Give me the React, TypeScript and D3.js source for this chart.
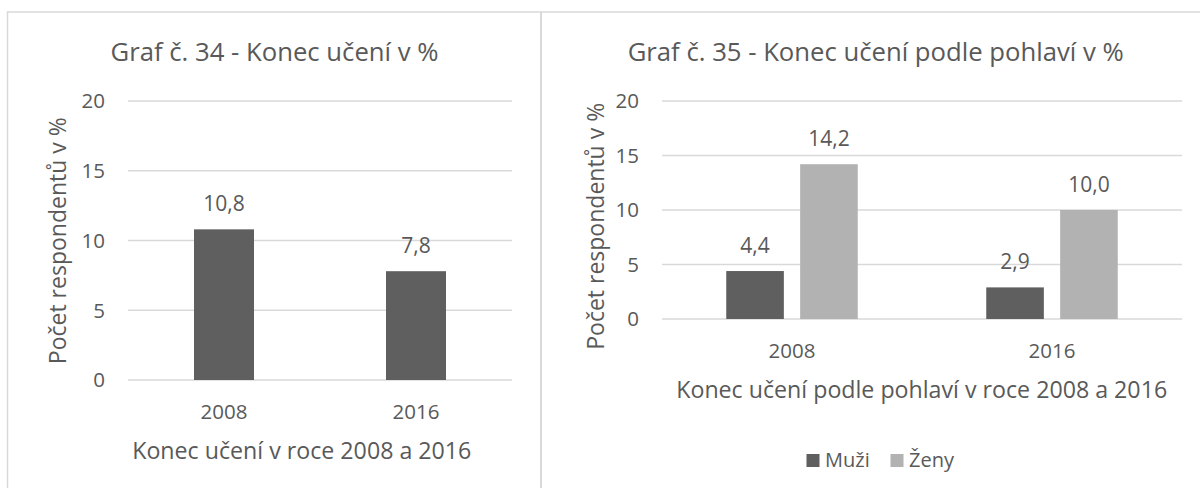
import React from 'react';
import * as d3 from 'd3';

const years = ['2008', '2016'];
const totalValues = [10.8, 7.8];
const genders = ['Muži', 'Ženy'];
const menValues = [4.4, 2.9];
const womenValues = [14.2, 10.0];
const yTicks = [0, 5, 10, 15, 20];

const titleLeft = 'Graf č. 34 - Konec učení v %';
const titleRight = 'Graf č. 35 - Konec učení podle pohlaví v %';
const yTitle = 'Počet respondentů v %';
const xTitleLeft = 'Konec učení v roce 2008 a 2016';
const xTitleRight = 'Konec učení podle pohlaví v roce 2008 a 2016';

const FONT = "'Open Sans', 'Noto Sans', sans-serif";
const TEXT = '#595959';
const GRID = '#d9d9d9';
const DARK = '#5f5f5f';
const LIGHT = '#b2b2b2';

const locale = d3.formatLocale({ decimal: ',', thousands: ' ', grouping: [3], currency: ['', ''] });
const fmt = locale.format('.1f');

export default function App() {
  // Left chart scales
  const xL = d3.scaleBand<string>().domain(years).range([128, 512]).paddingInner(0.6875).paddingOuter(0.34375);
  const yL = d3.scaleLinear().domain([0, 20]).range([380, 101]);

  // Right chart scales
  const xR = d3.scaleBand<string>().domain(years).range([662, 1182]).paddingInner(0.4942).paddingOuter(0.2471);
  const xR1 = d3.scaleBand<string>().domain(genders).range([0, xR.bandwidth()]).paddingInner(0.2206).paddingOuter(0);
  const yR = d3.scaleLinear().domain([0, 20]).range([319, 101]);
  const seriesR = [menValues, womenValues];
  const colors = d3.scaleOrdinal<string, string>().domain(genders).range([DARK, LIGHT]);

  return (
    <svg width={1200} height={488} style={{ position: 'absolute', left: 0, top: 0, background: '#fff' }} fontFamily={FONT}>
      {/* panel borders */}
      <g stroke={GRID} fill="none">
        <line x1={7} x2={1200} y1={12} y2={12} strokeWidth={1.5} />
        <line x1={7.5} x2={7.5} y1={11.5} y2={488} strokeWidth={1.5} />
        <line x1={541} x2={541} y1={11.5} y2={488} strokeWidth={2} />
      </g>

      {/* LEFT CHART */}
      <text x={274.5} y={61} textAnchor="middle" fontSize={25.7} fill={TEXT}>{titleLeft}</text>
      {yTicks.map((t) => (
        <g key={'gl' + t}>
          <line x1={128} x2={512} y1={yL(t)} y2={yL(t)} stroke={GRID} strokeWidth={1.3} />
          <text x={105} y={yL(t) + 7.3} textAnchor="end" fontSize={20.5} fill={TEXT}>{t}</text>
        </g>
      ))}
      {years.map((yr, i) => (
        <g key={'bl' + yr}>
          <rect x={xL(yr)!} y={yL(totalValues[i])} width={xL.bandwidth()} height={yL(0) - yL(totalValues[i])} fill={DARK} />
          <text x={xL(yr)! + xL.bandwidth() / 2} y={yL(totalValues[i]) - 18} textAnchor="middle" fontSize={21} fill={TEXT}>{fmt(totalValues[i])}</text>
          <text x={xL(yr)! + xL.bandwidth() / 2} y={yL(0) + 39} textAnchor="middle" fontSize={20.5} fill={TEXT}>{yr}</text>
        </g>
      ))}
      <text transform="translate(66,240.7) rotate(-90)" textAnchor="middle" fontSize={23} fill={TEXT}>{yTitle}</text>
      <text x={301.8} y={458.5} textAnchor="middle" fontSize={23.2} fill={TEXT}>{xTitleLeft}</text>

      {/* RIGHT CHART */}
      <text x={875.7} y={61} textAnchor="middle" fontSize={25.7} fill={TEXT}>{titleRight}</text>
      {yTicks.map((t) => (
        <g key={'gr' + t}>
          <line x1={662} x2={1182} y1={yR(t)} y2={yR(t)} stroke={GRID} strokeWidth={1.3} />
          <text x={639} y={yR(t) + 7.3} textAnchor="end" fontSize={20.5} fill={TEXT}>{t}</text>
        </g>
      ))}
      {years.map((yr, i) => (
        <g key={'br' + yr} transform={`translate(${xR(yr)},0)`}>
          {genders.map((g, j) => {
            const v = seriesR[j][i];
            const bx = xR1(g)!;
            return (
              <g key={g}>
                <rect x={bx} y={yR(v)} width={xR1.bandwidth()} height={yR(0) - yR(v)} fill={colors(g)} />
                <text x={bx + xR1.bandwidth() / 2} y={yR(v) - 18} textAnchor="middle" fontSize={21} fill={TEXT}>{fmt(v)}</text>
              </g>
            );
          })}
          <text x={xR.bandwidth() / 2} y={yR(0) + 39} textAnchor="middle" fontSize={20.5} fill={TEXT}>{yr}</text>
        </g>
      ))}
      <text transform="translate(604,226.3) rotate(-90)" textAnchor="middle" fontSize={23} fill={TEXT}>{yTitle}</text>
      <text x={921.7} y={397.5} textAnchor="middle" fontSize={23.2} fill={TEXT}>{xTitleRight}</text>

      {/* legend */}
      {genders.map((g, j) => {
        const lx = [806.5, 890.5][j];
        return (
          <g key={'lg' + g}>
            <rect x={lx} y={454} width={13} height={13} fill={colors(g)} />
            <text x={lx + 18.5} y={467} fontSize={20} fill={TEXT}>{g}</text>
          </g>
        );
      })}
    </svg>
  );
}
